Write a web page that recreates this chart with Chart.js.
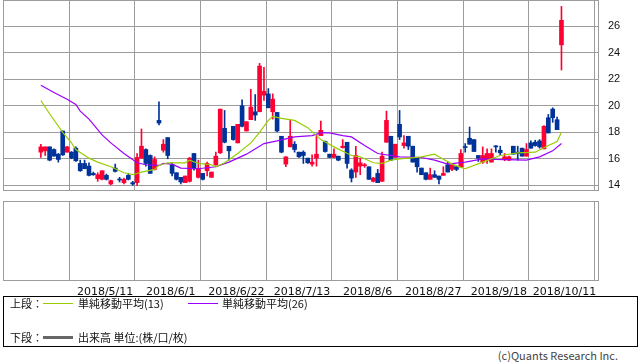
<!DOCTYPE html>
<html><head><meta charset="utf-8">
<script src="https://cdn.jsdelivr.net/npm/chart.js@4/dist/chart.umd.min.js"></script>
<style>
html,body{margin:0;padding:0;background:#fff;}
#wrap{position:relative;width:638px;height:362px;overflow:hidden;background:#fff;}
canvas{position:absolute;left:0;}
#c1{top:0;}
#c2{top:196px;}
.box{position:absolute;left:3px;top:296px;width:635px;height:51px;border:1px solid #000;box-sizing:border-box;}
.t{position:absolute;font-family:"Noto Sans CJK JP","Noto Sans",sans-serif;font-size:11px;line-height:14px;color:#111;white-space:nowrap;}
.ln{position:absolute;}
</style></head>
<body><div id="wrap">
<canvas id="c1" width="638" height="191"></canvas>
<canvas id="c2" width="638" height="100"></canvas>
<div class="box"></div>
<div class="t" style="left:10px;top:296px;">上段：</div>
<div class="ln" style="left:43px;top:303px;width:30px;height:1px;background:#99cc00;"></div>
<div class="t" style="left:78px;top:296px;">単純移動平均(13)</div>
<div class="ln" style="left:188px;top:303px;width:30px;height:1px;background:#9900ff;"></div>
<div class="t" style="left:222px;top:296px;">単純移動平均(26)</div>
<div class="t" style="left:10px;top:330px;">下段：</div>
<div class="ln" style="left:43px;top:336px;width:30px;height:3px;background:#666;"></div>
<div class="t" style="left:78px;top:330px;">出来高 単位:(株/口/枚)</div>
<div class="t" style="right:20px;top:348px;color:#444;">(c)Quants Research Inc.</div>
</div>
<script>
const dates = [
"2018/4/18","2018/4/19","2018/4/20","2018/4/23","2018/4/24","2018/4/25","2018/4/26","2018/4/27","2018/5/1","2018/5/2",
"2018/5/7","2018/5/8","2018/5/9","2018/5/10","2018/5/11","2018/5/14","2018/5/15","2018/5/16","2018/5/17","2018/5/18",
"2018/5/21","2018/5/22","2018/5/23","2018/5/24","2018/5/25","2018/5/28","2018/5/29","2018/5/30","2018/5/31","2018/6/1",
"2018/6/4","2018/6/5","2018/6/6","2018/6/7","2018/6/8","2018/6/11","2018/6/12","2018/6/13","2018/6/14","2018/6/15",
"2018/6/18","2018/6/19","2018/6/20","2018/6/21","2018/6/22","2018/6/25","2018/6/26","2018/6/27","2018/6/28","2018/6/29",
"2018/7/2","2018/7/3","2018/7/4","2018/7/5","2018/7/6","2018/7/9","2018/7/10","2018/7/11","2018/7/12","2018/7/13",
"2018/7/17","2018/7/18","2018/7/19","2018/7/20","2018/7/23","2018/7/24","2018/7/25","2018/7/26","2018/7/27","2018/7/30",
"2018/7/31","2018/8/1","2018/8/2","2018/8/3","2018/8/6","2018/8/7","2018/8/8","2018/8/9","2018/8/10","2018/8/13",
"2018/8/14","2018/8/15","2018/8/16","2018/8/17","2018/8/20","2018/8/21","2018/8/22","2018/8/23","2018/8/24","2018/8/27",
"2018/8/28","2018/8/29","2018/8/30","2018/8/31","2018/9/3","2018/9/4","2018/9/5","2018/9/6","2018/9/7","2018/9/10",
"2018/9/11","2018/9/12","2018/9/13","2018/9/14","2018/9/18","2018/9/19","2018/9/20","2018/9/21","2018/9/25","2018/9/26",
"2018/9/27","2018/9/28","2018/10/1","2018/10/2","2018/10/3","2018/10/4","2018/10/5","2018/10/9","2018/10/10","2018/10/11"];

const xTickLabels = ["2018/5/11","2018/6/1","2018/6/22","2018/7/13","2018/8/6","2018/8/27","2018/9/18","2018/10/11"];
const yTickValues = [14,16,18,20,22,24,26];

const opens = [
16.5,16.6,16.9,16.7,16.35,18.1,16.5,16.5,16.8,15.65,
15.65,15.45,14.9,14.5,14.45,14.75,14.1,15.3,14.45,14.2,
14.75,14.2,14.2,16.05,16.7,16.25,15.2,18.9,16.65,17.6,
15.55,14.95,14.6,14.2,14.3,16.4,14.6,14.9,15.1,14.6,
15.55,16.45,18.3,16.95,18.45,17.2,20.0,18.1,18.95,19.55,
19.55,20.8,20.9,19.55,19.5,17.7,15.6,16.9,17.1,16.5,
16.5,16.05,15.6,16.05,17.75,17.3,16.35,16.1,16.2,16.85,
17.25,15.15,15.0,15.45,15.48,15.4,14.3,14.9,14.3,17.25,
17.7,16.1,18.6,17.0,17.7,16.95,16.1,15.3,14.95,14.45,
14.8,14.7,14.75,15.55,15.2,15.4,15.4,16.9,17.55,17.45,
16.25,15.75,15.9,15.75,16.95,16.65,16.0,15.9,16.95,16.5,
16.8,16.2,17.2,17.25,17.35,16.75,19.1,19.75,18.95,24.6];
const highs = [
17.1,16.9,16.9,16.75,16.4,18.1,16.95,16.55,16.9,15.9,
15.9,15.7,15.0,14.95,15.1,14.85,14.4,15.6,14.6,14.55,
14.9,14.3,16.4,18.25,16.75,16.3,16.15,20.3,17.45,17.6,
15.7,14.95,14.6,14.7,16.1,16.4,15.9,14.9,15.75,15.0,
16.5,19.75,19.65,16.95,18.45,18.6,20.45,18.8,21.25,20.85,
23.2,22.9,21.3,20.9,19.5,17.7,16.15,18.9,17.3,16.5,
16.6,16.05,16.3,17.8,18.85,17.35,16.35,16.75,16.2,17.45,
17.25,15.25,16.95,16.05,15.65,15.4,14.6,15.2,16.5,19.6,
17.7,17.1,19.65,17.75,17.7,16.95,16.1,15.3,14.95,15.3,
15.1,14.7,15.4,15.75,15.6,15.45,16.7,17.15,18.4,17.45,
16.25,16.9,16.75,16.75,17.0,16.95,16.4,16.2,16.95,16.95,
16.8,17.15,17.35,17.4,17.45,18.5,19.35,19.85,19.15,27.5];
const lows = [
16.1,16.25,15.85,16.2,15.75,16.25,16.5,16.0,15.8,15.05,
15.25,14.7,14.75,14.3,14.4,14.4,14.05,15.0,14.25,14.1,
14.4,14.0,14.0,16.05,15.45,14.9,15.15,18.55,16.5,16.0,
14.7,14.4,14.1,14.2,14.25,15.15,14.55,14.4,14.7,14.6,
15.5,16.4,17.2,15.9,17.4,17.2,18.4,18.1,18.95,18.9,
19.55,20.4,19.85,19.0,18.05,16.45,15.4,16.9,16.5,16.1,
15.65,15.65,15.45,15.45,17.75,16.5,16.1,16.1,15.85,16.8,
15.3,14.25,14.6,14.8,15.35,14.45,14.25,14.2,14.3,17.25,
15.85,16.1,17.45,16.8,16.7,15.75,15.0,14.8,14.4,14.45,
14.6,14.1,14.75,15.0,15.1,15.1,15.35,16.5,17.1,16.55,
15.8,15.65,15.65,15.75,16.5,16.25,15.85,15.85,16.35,15.9,
16.2,16.2,16.8,16.95,16.8,16.75,17.95,18.75,18.2,22.7];
const closes = [
16.9,16.9,15.9,16.2,15.95,16.3,16.9,16.05,15.85,15.1,
15.25,14.75,14.8,14.8,15.1,14.45,14.35,15.05,14.4,14.45,
14.45,14.1,16.1,16.95,15.65,14.9,15.95,18.7,17.1,16.25,
14.9,14.45,14.25,14.7,16.05,15.25,15.25,14.45,15.65,15.0,
16.2,19.75,17.25,16.6,17.45,18.6,18.45,18.8,19.9,19.3,
23.0,21.1,19.85,20.5,18.1,16.5,16.15,17.7,16.7,16.15,
16.25,15.7,15.75,16.35,18.15,16.55,16.1,16.35,15.9,16.95,
15.65,14.55,16.25,15.7,15.52,14.45,14.55,14.2,16.2,18.9,
15.9,17.1,17.65,17.2,16.95,15.75,15.4,14.8,14.45,14.8,
14.6,14.45,14.9,15.0,15.55,15.2,16.4,16.85,17.1,16.55,
16.05,16.25,16.4,16.4,16.9,16.45,16.15,16.15,16.35,16.4,
16.2,16.7,16.8,17.0,16.9,18.45,17.95,19.1,18.2,26.45];

// Moving averages (date, value)
const ma13Dates = ["2018/4/18","2018/4/20","2018/4/25","2018/4/27","2018/5/1","2018/5/8","2018/5/10","2018/5/15","2018/5/18","2018/5/22",
"2018/5/24","2018/5/29","2018/5/30","2018/6/1","2018/6/7","2018/6/8","2018/6/12","2018/6/15","2018/6/18","2018/6/20",
"2018/6/25","2018/6/28","2018/7/2","2018/7/4","2018/7/5","2018/7/9","2018/7/12","2018/7/18","2018/7/23","2018/7/26",
"2018/8/1","2018/8/3","2018/8/8","2018/8/10","2018/8/14","2018/8/16","2018/8/23","2018/8/28","2018/8/29","2018/9/3",
"2018/9/5","2018/9/6","2018/9/12","2018/9/19","2018/9/26","2018/10/2","2018/10/5","2018/10/10","2018/10/11"];
const ma13 = [20.4,19.4,18.0,17.2,16.7,16.05,15.75,15.4,14.95,14.8,
15.0,15.2,15.5,15.7,15.7,15.9,15.65,15.55,15.4,15.7,
16.4,17.2,18.0,18.9,19.2,19.05,18.9,18.35,17.45,16.9,
16.25,16.15,15.7,15.65,15.9,16.0,16.15,16.35,16.15,15.6,
15.35,15.25,15.75,16.25,16.45,16.5,17.0,17.3,18.0];
const ma26Dates = ["2018/4/18","2018/4/23","2018/4/26","2018/5/1","2018/5/2","2018/5/8","2018/5/11","2018/5/15","2018/5/18","2018/5/23",
"2018/5/25","2018/5/30","2018/5/31","2018/6/4","2018/6/6","2018/6/12","2018/6/18","2018/6/21","2018/6/27","2018/7/3",
"2018/7/6","2018/7/12","2018/7/19","2018/7/23","2018/7/25","2018/7/30","2018/8/1","2018/8/6","2018/8/9","2018/8/16",
"2018/8/23","2018/8/28","2018/8/31","2018/9/6","2018/9/12","2018/9/18","2018/9/28","2018/10/3","2018/10/9","2018/10/11"];
const ma26 = [21.55,21.0,20.5,20.1,19.6,19.0,17.8,17.2,16.4,15.7,
15.55,15.5,15.65,15.6,15.3,15.25,15.4,15.75,16.35,17.15,
17.35,17.65,17.75,17.95,17.95,17.75,17.65,17.0,16.4,16.15,
16.1,15.9,15.6,15.75,16.0,15.95,15.9,16.15,16.6,17.15];
const volumes = [];

const RED = '#ff0033', BLUE = '#003399', GRID = '#9c9c9c';
const X_MIN = -8.65, X_MAX = 127.58;
const idx = d => dates.indexOf(d);
const colors = dates.map((_, i) => closes[i] >= opens[i] ? RED : BLUE);

const frame = { id: 'frame', beforeDatasetsDraw(chart) {
  const {ctx, chartArea: a} = chart;
  ctx.save(); ctx.strokeStyle = GRID; ctx.lineWidth = 1;
  ctx.strokeRect(Math.round(a.left) + 0.5, Math.round(a.top) + 0.5, Math.round(a.right - a.left) - 1, Math.round(a.bottom - a.top) - 1);
  ctx.restore();
}};

const xTicksFn = s => { s.ticks = xTickLabels.map(l => ({ value: idx(l) })); };
const noPad = s => { s.paddingTop = 0; s.paddingBottom = 0; };

new Chart(document.getElementById('c1'), {
  type: 'bar',
  data: { datasets: [
    { type: 'line', label: '単純移動平均(13)', data: ma13Dates.map((d, k) => ({ x: idx(d), y: ma13[k] })),
      borderColor: '#99cc00', borderWidth: 1.2, pointRadius: 0, tension: 0, order: 0 },
    { type: 'line', label: '単純移動平均(26)', data: ma26Dates.map((d, k) => ({ x: idx(d), y: ma26[k] })),
      borderColor: '#9900ff', borderWidth: 1.2, pointRadius: 0, tension: 0, order: 0 },
    { label: 'body', data: dates.map((d, i) => ({ x: i, y: [opens[i], closes[i]] })),
      backgroundColor: colors, borderWidth: 0, barThickness: 4, grouped: false, minBarLength: 1, order: 1 },
    { label: 'wick', data: dates.map((d, i) => ({ x: i, y: [lows[i], highs[i]] })),
      backgroundColor: colors, borderWidth: 0, barThickness: 1, grouped: false, order: 2 }
  ]},
  options: {
    responsive: false, animation: false, events: [],
    layout: { padding: { left: 3, right: 0, top: 0, bottom: 0 } },
    plugins: { legend: { display: false }, tooltip: { enabled: false } },
    scales: {
      x: { type: 'linear', min: X_MIN, max: X_MAX, offset: false, afterBuildTicks: xTicksFn,
           ticks: { display: false }, grid: { color: GRID, drawTicks: false }, border: { display: false },
           afterFit: s => { s.height = 0; s.paddingLeft = 0; s.paddingRight = 0; } },
      y: { position: 'right', min: 13.57, max: 27.985,
           afterBuildTicks: s => { s.ticks = yTickValues.map(v => ({ value: v })); },
           ticks: { padding: 9, color: '#111', font: { family: 'Liberation Sans', size: 11 } },
           grid: { color: GRID, drawTicks: false }, border: { display: false },
           afterFit: s => { s.width = 39; noPad(s); } }
    }
  },
  plugins: [frame]
});

new Chart(document.getElementById('c2'), {
  type: 'bar',
  data: { datasets: [ { label: '出来高', data: volumes, backgroundColor: '#666' } ] },
  options: {
    responsive: false, animation: false, events: [],
    layout: { padding: { left: 3, right: 0, top: 5, bottom: 0 } },
    plugins: { legend: { display: false }, tooltip: { enabled: false } },
    scales: {
      x: { type: 'linear', min: X_MIN, max: X_MAX, offset: false, afterBuildTicks: xTicksFn,
           ticks: { padding: 5, labelOffset: 3, maxRotation: 0, autoSkip: false, color: '#111',
                    font: { family: 'DejaVu Sans', size: 11 }, callback: v => dates[v] },
           grid: { color: GRID, drawTicks: false }, border: { display: false },
           afterFit: s => { s.height = 15; s.paddingLeft = 0; s.paddingRight = 0; } },
      y: { position: 'right', min: 0, max: 1, ticks: { display: false }, grid: { display: false },
           border: { display: false }, afterFit: s => { s.width = 39; noPad(s); } }
    }
  },
  plugins: [frame]
});
</script>
</body></html>
